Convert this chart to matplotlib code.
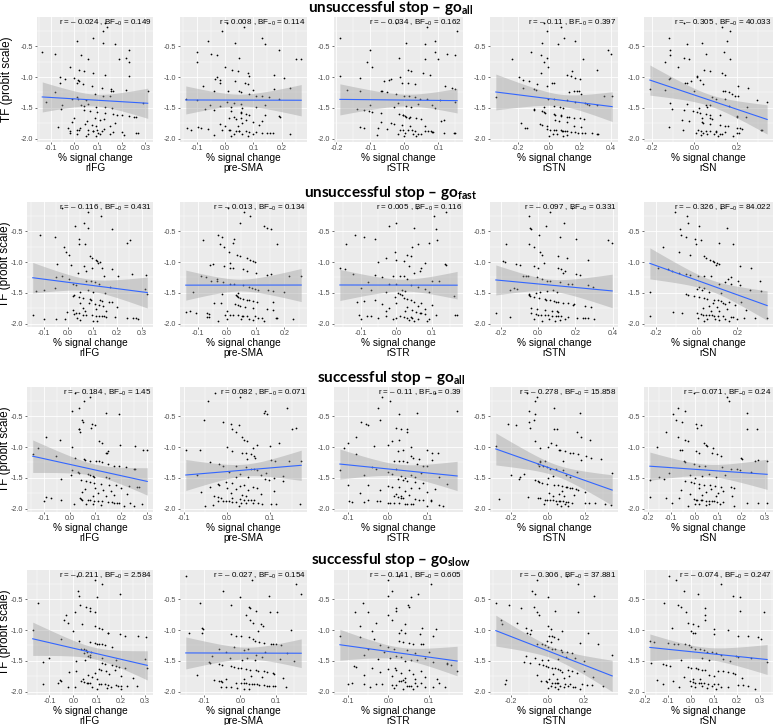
import numpy as np
import matplotlib
matplotlib.use('Agg')
import matplotlib.pyplot as plt
from matplotlib import font_manager
from matplotlib.ticker import MultipleLocator, FixedLocator, FuncFormatter

# ── Data ─────────────────────────────────────────────────────────────
# TF (probit) per subject, shared by every panel (top -> bottom)
TF = [-0.12, -0.19, -0.25, -0.37, -0.42, -0.45, -0.47,
      -0.57, -0.59, -0.62, -0.65, -0.69, -0.70, -0.71, -0.75, -0.84, -0.89, -0.91, -0.94, -0.96, -0.99, -1.00, -1.02,
      -1.04, -1.05, -1.07, -1.09, -1.10, -1.12, -1.15, -1.17, -1.20, -1.21, -1.22, -1.22, -1.23, -1.25, -1.28, -1.30,
      -1.31, -1.33, -1.35, -1.36, -1.38, -1.40, -1.42, -1.43, -1.45, -1.46, -1.47, -1.48, -1.49, -1.50,
      -1.52, -1.53, -1.55, -1.57, -1.58, -1.60, -1.61, -1.62, -1.63, -1.64, -1.65, -1.66, -1.67, -1.68, -1.70, -1.72,
      -1.73, -1.75, -1.76, -1.78, -1.79, -1.80,
      -1.81, -1.82, -1.83, -1.84, -1.85, -1.85, -1.86, -1.86, -1.87, -1.87, -1.88, -1.88, -1.89, -1.89, -1.90, -1.90,
      -1.91, -1.91, -1.92, -1.92, -1.93, -1.93, -1.94, -1.95, -1.96]

REGIONS = ["rIFG", "pre-SMA", "rSTR", "rSTN", "rSN"]
ROW_TITLES = [r"unsuccessful stop – go$_{\mathbf{all}}$",
              r"unsuccessful stop – go$_{\mathbf{fast}}$",
              r"successful stop – go$_{\mathbf{all}}$",
              r"successful stop – go$_{\mathbf{slow}}$"]

# % signal change per subject (same order as TF)
x_r1_rifg = [0.13, 0.14, 0.12, 0.08, 0.01, 0.12, 0.17,
             0.23, -0.135, -0.08, 0.03, 0.22, 0.19, 0.06, 0.23, -0.02, 0.02, 0.04, 0.08, 0.13, 0.23, -0.06, 0.0,
             -0.04, 0.015, 0.02, 0.01, -0.06, 0.035, 0.075, 0.115, 0.155, 0.22, 0.31, 0.165, 0.155, -0.08, 0.087, 0.12,
             0.15, 0.01, -0.01, 0.015, 0.05, -0.12, 0.29, 0.06, 0.03, -0.05, 0.04, 0.09, 0.13, 0.16,
             -0.055, 0.04, 0.068, 0.094, 0.13, 0.165, 0.18, 0.2, 0.23, 0.25, 0.26, 0.0, 0.087, 0.125, 0.107, 0.055,
             -0.01, 0.17, 0.045, 0.075, 0.15, 0.09,
             -0.07, -0.026, 0.025, 0.125, 0.094, 0.013, 0.02, 0.056, 0.077, 0.08, 0.115, -0.02, 0.165, 0.2, 0.27, 0.26,
             -0.02, 0.1, 0.06, 0.11, 0.01, 0.15, 0.21, 0.05, 0.09]
x_r1_presma = [0.005, 0.065, -0.01, 0.13, -0.06, 0.035, 0.14,
               0.19, -0.10, -0.05, -0.03, 0.05, 0.25, 0.27, -0.10, 0.0, 0.025, 0.045, 0.08, 0.175, 0.085, -0.03, 0.21,
               -0.035, -0.02, 0.035, -0.02, 0.07, 0.08, -0.08, 0.23, 0.175, 0.1, -0.04, 0.01, 0.05, 0.055, 0.085, 0.11,
               0.13, 0.155, 0.19, -0.14, -0.10, 0.008, 0.03, 0.055, 0.14, -0.055, -0.02, 0.11, 0.02, 0.06,
               -0.07, -0.04, 0.02, 0.055, 0.057, 0.075, 0.085, 0.14, 0.19, 0.195, 0.03, 0.015, 0.057, 0.04, 0.075, 0.13,
               0.1, 0.06, -0.02, 0.12, 0.045, 0.0,
               -0.095, -0.135, -0.085, -0.06, -0.12, -0.01, 0.015, 0.018, 0.04, 0.05, 0.05, 0.075, 0.085, 0.11, 0.13,
               0.15, 0.16, 0.17, 0.23, 0.03, 0.06, 0.1, -0.04, 0.02, 0.08]
x_r1_rstr = [-0.025, 0.065, 0.155, -0.19, 0.09, 0.005, 0.06,
             -0.1, 0.09, 0.125, 0.15, -0.015, 0.06, 0.1, -0.11, -0.095, 0.01, 0.02, 0.055, 0.075, -0.19, -0.013, -0.13,
             -0.04, -0.045, -0.06, -0.008, 0.01, 0.03, 0.12, 0.14, 0.15, -0.17, -0.13, -0.07, -0.065, -0.05, -0.025,
             0.0, 0.012, 0.03, 0.045, 0.065, 0.105, 0.15, -0.02, 0.04, -0.1, 0.08, 0.005, -0.03, 0.02, 0.09,
             -0.14, -0.12, -0.105, -0.095, -0.07, -0.015, -0.005, -0.003, 0.002, 0.005, 0.017, 0.012, 0.035, 0.05,
             0.117, 0.108, -0.07, -0.04, -0.032, -0.008, 0.017, 0.06,
             -0.13, -0.12, -0.078, -0.05, -0.013, -0.003, 0.01, 0.022, 0.03, 0.06, 0.07, 0.078, 0.082, 0.085, 0.115,
             0.145, 0.15, 0.002, 0.04, 0.025, -0.02, 0.05, -0.08, 0.0, 0.035]
x_r1_rstn = [-0.03, 0.075, -0.01, 0.1, 0.17, -0.045, 0.06,
             0.38, -0.115, 0.4, -0.055, -0.01, 0.22, -0.24, -0.035, -0.005, 0.31, 0.15, -0.055, 0.12, 0.145, -0.195, 0.17,
             0.2, -0.17, -0.13, 0.03, 0.02, -0.075, -0.015, -0.17, -0.1, -0.085, 0.16, 0.195, 0.18, 0.13, 0.205, 0.355,
             0.41, -0.345, -0.005, 0.035, 0.12, 0.17, 0.235, 0.245, 0.26, 0.31, 0.032, 0.07, -0.03, 0.09,
             -0.1, -0.1, -0.045, -0.035, -0.025, 0.03, 0.042, 0.075, 0.08, 0.115, 0.13, 0.16, 0.2, 0.23, 0.036, 0.065,
             0.115, -0.18, -0.06, -0.047, -0.015, 0.16,
             0.21, -0.155, -0.145, -0.01, 0.006, 0.032, 0.043, 0.075, 0.086, 0.092, 0.107, 0.114, 0.14, 0.17, 0.187,
             0.215, 0.236, 0.28, 0.31, 0.316, 0.028, 0.05, 0.12, 0.0, 0.09]
x_r1_rsn = [-0.047, 0.13, 0.165, -0.12, 0.155, 0.036, -0.036,
            -0.113, 0.14, 0.055, -0.113, -0.047, -0.024, 0.168, -0.137, -0.079, 0.043, 0.071, 0.13, 0.142, 0.011, 0.013, -0.113,
            -0.12, 0.027, -0.016, -0.036, -0.044, 0.04, 0.205, 0.25, -0.21, -0.137, -0.003, 0.134, 0.146, 0.162, 0.176,
            0.19, 0.205, 0.082, 0.102, 0.142, 0.296, 0.342, -0.113, -0.035, 0.055, 0.071, 0.162, 0.249, 0.06, 0.02,
            -0.105, -0.047, -0.008, 0.011, 0.027, 0.052, 0.074, 0.118, 0.202, 0.202, 0.244, 0.036, 0.071, 0.083, -0.058,
            -0.024, 0.036, 0.04, 0.071, 0.118, 0.142, 0.16,
            -0.12, 0.2, 0.216, 0.225, 0.312, 0.318, -0.052, 0.016, 0.031, 0.052, 0.074, 0.1, 0.102, 0.146, 0.202, 0.21,
            0.008, 0.04, 0.06, 0.09, 0.12, 0.13, 0.03, 0.11, 0.18]

x_r2_rifg = [-0.024, 0.083, 0.136, 0.065, 0.03, 0.083, 0.179,
             -0.115, -0.055, 0.045, 0.252, 0.239, 0.043, 0.069, -0.017, -0.008, 0.003, 0.088, 0.096, 0.112, 0.119, 0.129, 0.123,
             -0.044, 0.012, 0.065, 0.139, 0.096, 0.179, 0.072, 0.039, 0.259, 0.319, 0.205, 0.145, -0.024, -0.051, 0.005,
             0.072, 0.092, 0.109, 0.125, 0.019, 0.032, 0.172, -0.055, 0.315, 0.08, -0.1, -0.13, 0.1, 0.05, 0.15,
             0.323, 0.025, 0.021, 0.045, 0.059, 0.088, 0.092, 0.132, 0.139, 0.165, 0.179, 0.048, 0.085, 0.109, 0.125,
             0.141, 0.2, 0.06, 0.115, 0.02, 0.155, 0.07,
             -0.004, 0.032, 0.045, 0.025, 0.059, 0.072, -0.144, 0.099, 0.112, 0.128, 0.139, 0.145, 0.155, 0.192, 0.239,
             0.265, 0.279, 0.035, -0.011, -0.051, -0.099, 0.285, 0.05, 0.1, 0.12]
x_r2_presma = [0.002, 0.06, 0.08, 0.044, 0.129, 0.138, 0.152,
               -0.032, -0.017, 0.023, -0.083, 0.021, 0.176, -0.023, -0.011, 0.006, 0.034, 0.044, 0.069, 0.08, 0.092, 0.098, 0.011,
               -0.048, -0.061, -0.011, 0.011, 0.021, 0.057, 0.069, 0.101, 0.155, 0.138, 0.215, 0.259, -0.09, -0.072, -0.034,
               -0.055, -0.034, -0.014, 0.011, 0.023, 0.057, 0.075, 0.086, 0.098, 0.109, 0.144, 0.159, -0.12, 0.2, 0.04,
               -0.017, 0.032, 0.034, 0.04, 0.046, 0.057, 0.069, 0.075, 0.092, 0.103, 0.161, -0.046, -0.02, 0.029, 0.04,
               0.046, 0.063, 0.092, 0.138, 0.161, -0.13, 0.0,
               -0.144, -0.109, -0.069, -0.062, -0.006, 0.011, 0.021, 0.037, 0.098, 0.052, 0.057, 0.069, -0.069, -0.063, 0.109,
               0.121, 0.17, 0.175, 0.23, 0.075, 0.0, 0.05, 0.09, 0.13, -0.03]
x_r2_rstr = [0.058, 0.14, 0.105, 0.0, -0.02, 0.05, 0.11,
             -0.115, -0.09, -0.06, 0.115, 0.09, 0.06, -0.14, 0.045, -0.005, 0.03, 0.04, -0.03, 0.0, 0.02, -0.05, 0.08,
             0.135, 0.14, 0.035, 0.07, -0.158, -0.144, 0.065, 0.05, -0.12, -0.06, -0.01, 0.01, 0.02, -0.04, 0.03, 0.1,
             0.12, -0.08, -0.02, 0.0, 0.04, 0.06, -0.1, 0.08, -0.07, 0.015, 0.025, -0.03, 0.09, 0.005,
             0.01, 0.015, 0.16, -0.005, 0.02, 0.03, 0.04, -0.06, -0.09, 0.05, -0.11, 0.0, 0.07, -0.04, 0.1, 0.06, 0.03,
             -0.02, 0.08, 0.045, 0.025, -0.03,
             0.055, 0.065, 0.07, 0.08, -0.105, 0.11, 0.165, 0.17, -0.083, -0.07, -0.03, 0.01, 0.02, 0.04, 0.045, -0.05,
             0.0, 0.03, 0.06, 0.09, -0.01, -0.1, 0.035, 0.085, 0.05]
x_r2_rstn = [0.18, 0.065, -0.046, 0.141, 0.042, -0.044, -0.037,
             0.007, 0.118, 0.201, 0.374, 0.397, -0.169, -0.046, -0.019, 0.009, 0.021, 0.109, 0.153, 0.268, -0.19, -0.178, 0.03,
             -0.12, -0.099, -0.023, 0.0, 0.109, 0.123, 0.145, 0.136, 0.203, 0.224, -0.067, -0.053, -0.081, -0.005, 0.021,
             0.048, 0.065, 0.118, 0.159, 0.18, 0.268, 0.295, -0.129, -0.115, 0.08, -0.15, 0.05, 0.01, 0.1, -0.01,
             -0.049, -0.046, -0.041, -0.023, 0.004, 0.035, 0.042, 0.065, 0.083, 0.095, 0.109, 0.136, 0.162, 0.194, 0.189,
             0.25, 0.282, -0.037, -0.005, 0.035, 0.074, 0.1,
             0.109, -0.226, -0.035, -0.011, 0.0, 0.018, 0.035, 0.056, 0.074, 0.095, 0.109, 0.123, 0.159, -0.152, 0.206,
             0.242, 0.25, 0.268, 0.3, -0.023, 0.145, 0.06, 0.12, 0.02, 0.09]
x_r2_rsn = [0.12, -0.105, -0.049, -0.041, 0.013, 0.149, -0.08,
            -0.077, -0.052, -0.008, 0.021, 0.108, -0.003, 0.177, -0.167, -0.089, -0.031, 0.038, 0.046, 0.067, 0.079, 0.087, 0.1,
            0.108, 0.095, 0.215, 0.267, -0.189, -0.143, -0.123, -0.085, -0.052, -0.031, 0.005, 0.034, 0.07, 0.169, 0.152,
            0.202, 0.313, 0.139, 0.111, 0.169, 0.215, 0.013, 0.038, 0.0, 0.025, 0.264, 0.315, -0.228, 0.06, 0.12,
            -0.052, -0.044, -0.015, 0.013, 0.038, 0.051, 0.087, 0.103, 0.12, 0.161, 0.218, 0.128, 0.08, 0.14, 0.19, 0.06,
            0.1, 0.03, 0.15, 0.24, 0.11, 0.07,
            -0.118, -0.072, 0.002, 0.021, 0.03, 0.046, 0.062, 0.074, 0.087, 0.103, -0.23, 0.128, 0.169, 0.177, 0.231,
            0.287, 0.346, 0.005, 0.09, 0.14, 0.2, 0.05, 0.11, 0.16, 0.035]

x_r3_rifg = [0.023, 0.078, 0.057, 0.035, 0.01, 0.139, 0.192,
             0.047, 0.051, 0.086, 0.097, 0.082, 0.035, 0.038, 0.041, -0.091, -0.038, 0.114, 0.124, 0.196, 0.253, 0.01, -0.12,
             0.282, 0.3, 0.149, 0.139, 0.146, -0.142, -0.051, 0.023, 0.054, 0.061, 0.078, 0.104, 0.114, 0.127, 0.149,
             0.171, 0.192, 0.218, 0.247, 0.253, 0.01, 0.032, 0.035, 0.07, 0.006, 0.078, 0.089, 0.095, 0.142, 0.154,
             -0.034, 0.044, 0.063, 0.078, 0.095, 0.12, 0.152, 0.181, 0.23, 0.26, 0.268, 0.1, 0.2, 0.06, 0.13, 0.16, 0.05,
             0.11, 0.22, 0.17, 0.09, 0.14,
             -0.089, -0.072, 0.041, 0.044, 0.048, -0.034, 0.073, 0.078, 0.095, 0.108, 0.127, -0.099, 0.149, 0.165, 0.171,
             0.184, 0.192, 0.234, 0.281, 0.019, 0.063, 0.089, 0.12, 0.21, 0.25]
x_r3_presma = [-0.027, 0.031, -0.044, 0.139, 0.089, 0.087, 0.093,
               -0.053, -0.008, 0.009, 0.028, 0.16, 0.15, 0.011, 0.021, 0.034, 0.04, 0.047, 0.12, 0.07, 0.1, 0.0, 0.06,
               -0.095, -0.063, 0.013, 0.036, 0.044, 0.055, 0.063, 0.065, 0.047, 0.101, 0.112, 0.144, 0.172, -0.039, -0.018,
               -0.01, 0.022, 0.044, 0.055, 0.063, 0.07, 0.005, 0.09, 0.03, -0.07, 0.08, 0.13, 0.02, 0.05, 0.11,
               0.088, 0.098, 0.129, -0.002, 0.013, -0.021, -0.018, 0.04, 0.03, 0.06, -0.04, 0.07, 0.0, 0.02, 0.05, 0.11,
               -0.06, 0.01, 0.08, 0.035, -0.03, 0.045,
               -0.021, -0.014, 0.013, 0.03, 0.04, 0.05, 0.055, 0.063, -0.021, -0.01, -0.002, 0.005, 0.013, 0.022, 0.032,
               0.044, 0.06, 0.073, 0.082, 0.169, 0.101, 0.114, -0.033, 0.028, -0.05]
x_r3_rstr = [0.12, -0.013, 0.005, -0.025, 0.175, 0.075, 0.03,
             -0.02, -0.068, -0.055, -0.05, 0.02, 0.033, 0.05, 0.05, -0.08, 0.03, 0.01, -0.1, 0.0, -0.035, 0.06, -0.11,
             0.04, 0.1, 0.025, 0.128, 0.112, -0.08, 0.058, 0.065, 0.078, 0.113, 0.016, 0.03, 0.04, 0.05, 0.075, 0.09,
             0.1, -0.04, -0.03, 0.02, -0.12, 0.0, 0.085, 0.01, 0.06, -0.06, 0.035, 0.13, 0.07, 0.045,
             0.025, 0.04, 0.05, 0.07, 0.09, 0.15, -0.1, -0.05, 0.0, 0.01, 0.03, 0.06, 0.08, 0.12, -0.02, 0.045, 0.1,
             -0.07, 0.02, 0.055, 0.035, 0.015,
             0.025, 0.035, 0.04, 0.07, -0.05, 0.08, 0.09, 0.11, 0.11, -0.098, -0.026, -0.02, -0.09, -0.06, 0.0, 0.005,
             0.015, 0.03, 0.045, 0.05, 0.06, 0.065, 0.13, 0.14, 0.1]
x_r3_rstn = [-0.114, -0.057, -0.066, 0.036, -0.098, 0.174, -0.066,
             -0.075, -0.101, -0.214, -0.173, -0.093, 0.032, 0.05, 0.157, 0.183, 0.231, -0.066, 0.02, 0.046, -0.28, 0.0, -0.04,
             0.059, 0.068, 0.094, 0.121, 0.139, 0.165, 0.206, 0.237, 0.29, 0.183, -0.039, -0.012, 0.085, -0.039, -0.052,
             -0.048, -0.025, -0.004, 0.014, 0.046, 0.085, 0.157, 0.349, -0.13, -0.2, 0.1, 0.03, -0.15, 0.12, 0.0,
             -0.155, -0.066, -0.053, -0.048, -0.03, -0.004, 0.037, 0.055, 0.076, 0.1, 0.107, 0.121, 0.13, 0.153, 0.165,
             0.08, 0.2, 0.01, 0.06, 0.14, 0.09, 0.03,
             -0.107, -0.039, -0.053, -0.262, -0.012, -0.004, 0.014, 0.028, 0.046, 0.059, 0.068, 0.085, 0.1, 0.112, 0.13,
             0.201, 0.224, 0.254, 0.308, -0.021, 0.05, 0.094, 0.34, 0.11, 0.07]
x_r3_rsn = [-0.003, 0.14, 0.147, -0.071, -0.039, 0.226, -0.091,
            -0.081, -0.053, 0.004, 0.026, 0.011, 0.223, 0.266, -0.124, -0.071, -0.039, -0.029, 0.04, 0.047, 0.051, -0.16, 0.08,
            -0.063, -0.053, 0.004, 0.019, 0.076, 0.097, 0.114, 0.2, 0.204, 0.269, 0.257, 0.309, -0.046, -0.039, -0.003,
            0.019, 0.043, 0.119, 0.154, 0.183, 0.194, 0.24, -0.11, 0.06, 0.13, -0.02, 0.03, 0.09, -0.15, 0.0,
            -0.131, -0.191, -0.039, -0.014, -0.003, 0.019, 0.04, 0.066, 0.086, 0.111, 0.154, 0.169, 0.02, 0.07, -0.06,
            0.12, 0.05, 0.1, -0.02, 0.03, 0.16, 0.09,
            -0.189, -0.124, -0.067, -0.003, 0.004, 0.011, 0.026, 0.033, 0.047, 0.061, 0.073, 0.083, 0.097, 0.123, -0.096,
            0.223, 0.271, 0.31, 0.0, 0.06, 0.11, 0.02, 0.05, -0.03, 0.17]

x_r4_rifg = [0.014, 0.09, 0.12, 0.018, 0.197, 0.022, 0.099,
             -0.15, 0.027, 0.054, 0.068, 0.072, 0.093, 0.008, -0.03, -0.037, -0.023, 0.038, 0.093, 0.109, 0.12, -0.17, 0.0,
             0.144, 0.147, 0.195, 0.218, 0.272, 0.303, -0.05, 0.024, 0.068, 0.093, 0.099, 0.106, 0.12, 0.133, 0.161,
             0.031, 0.045, 0.052, 0.059, 0.076, 0.045, 0.068, 0.063, 0.072, -0.1, 0.12, 0.3, 0.18, 0.05, 0.01,
             -0.125, 0.12, 0.133, 0.161, 0.181, 0.19, 0.218, 0.31, 0.106, 0.117, 0.174, 0.136, 0.011, -0.016, 0.09, 0.15,
             0.06, 0.2, 0.08, 0.25, 0.04, 0.1,
             -0.057, -0.05, 0.031, 0.045, 0.059, 0.063, 0.072, -0.064, 0.109, 0.117, -0.125, 0.131, 0.147, 0.181, 0.187,
             0.201, 0.226, 0.269, 0.008, -0.023, 0.08, 0.16, 0.14, 0.1, 0.2]
x_r4_presma = [-0.152, 0.032, 0.156, -0.047, 0.17, 0.08, 0.0,
               -0.113, -0.026, 0.025, 0.028, 0.044, 0.084, 0.103, 0.016, 0.028, 0.035, 0.058, 0.063, -0.106, -0.104, 0.142, 0.05,
               -0.143, -0.106, -0.026, -0.012, 0.002, 0.025, 0.035, 0.041, 0.053, 0.067, 0.086, 0.091, 0.1, 0.114, -0.017,
               0.021, -0.06, 0.01, 0.07, -0.04, 0.13, 0.045, -0.08, 0.06, 0.02, -0.03, 0.11, 0.005, 0.04, 0.15,
               -0.087, -0.084, -0.059, -0.05, -0.026, -0.017, -0.007, 0.002, 0.016, 0.028, 0.044, 0.049, 0.065, 0.075,
               0.091, 0.095, -0.12, 0.03, 0.06, 0.12, -0.04, 0.01,
               -0.073, -0.059, -0.054, -0.05, -0.012, 0.002, 0.009, 0.016, 0.025, 0.032, 0.039, 0.047, 0.053, 0.067, 0.075,
               0.081, 0.091, 0.097, 0.128, -0.054, -0.04, -0.026, -0.009, 0.011, 0.025]
x_r4_rstr = [0.027, -0.002, 0.105, 0.009, 0.072, 0.0, 0.057,
             -0.063, 0.049, 0.05, 0.019, 0.02, -0.083, -0.05, 0.0, 0.01, -0.03, 0.04, -0.07, 0.083, 0.117, 0.03, -0.04,
             0.027, 0.04, 0.078, 0.11, -0.12, -0.07, -0.035, 0.025, 0.035, 0.05, 0.06, 0.08, 0.085, -0.02, 0.0, -0.05,
             0.015, 0.045, -0.01, 0.1, 0.065, -0.06, 0.02, 0.03, 0.09, 0.005, -0.025, 0.055, 0.07, 0.04,
             0.11, 0.146, 0.146, 0.155, -0.086, -0.08, 0.017, -0.04, 0.0, 0.02, 0.05, 0.08, 0.17, -0.02, 0.03, 0.06,
             -0.06, 0.01, 0.09, 0.04, 0.12, 0.065,
             0.036, 0.03, 0.025, 0.04, 0.065, 0.081, -0.09, 0.125, -0.06, -0.03, -0.015, -0.1, 0.01, 0.02, 0.045, 0.05,
             0.055, 0.07, 0.09, 0.11, 0.14, -0.045, 0.015, 0.035, 0.06]
x_r4_rstn = [0.105, -0.058, 0.169, -0.085, -0.067, 0.256, 0.005,
             -0.285, -0.213, -0.076, -0.149, 0.042, 0.165, -0.058, -0.045, -0.258, -0.167, -0.25, 0.0, -0.12, 0.02, -0.09, 0.08,
             0.224, -0.113, -0.098, 0.009, 0.024, 0.038, 0.056, -0.004, 0.02, 0.178, 0.278, -0.058, -0.031, -0.016, 0.005,
             0.024, 0.042, 0.075, 0.078, 0.105, 0.133, 0.356, -0.118, 0.1, -0.07, 0.15, 0.06, 0.0, -0.03, 0.2,
             -0.131, -0.095, -0.049, -0.027, -0.009, 0.005, 0.024, 0.042, 0.06, 0.069, 0.111, 0.136, 0.2, 0.08, 0.16,
             0.03, -0.06, 0.12, 0.25, 0.09, 0.05, 0.01,
             -0.231, -0.035, -0.009, -0.004, 0.024, 0.042, 0.051, 0.06, 0.096, -0.236, 0.124, 0.187, 0.215, 0.245, 0.305,
             0.02, 0.07, 0.11, 0.15, 0.04, 0.09, 0.14, 0.0, 0.18, 0.06]
x_r4_rsn = [-0.095, -0.065, 0.13, -0.029, 0.032, 0.183, 0.212,
            -0.115, -0.055, -0.043, 0.063, 0.212, 0.317, -0.019, 0.06, 0.063, -0.01, 0.01, 0.03, -0.08, 0.1, 0.16, 0.0,
            0.01, 0.017, 0.101, 0.204, 0.247, 0.291, 0.305, -0.177, -0.158, -0.098, -0.072, -0.055, -0.026, -0.009,
            0.003, 0.02, 0.039, 0.058, 0.072, 0.092, 0.111, 0.132, 0.197, 0.204, 0.259, 0.05, 0.14, -0.04, 0.08, 0.17,
            0.331, -0.17, -0.119, -0.105, -0.091, -0.012, 0.0, 0.024, 0.032, 0.049, 0.06, 0.118, 0.14, 0.161, 0.183,
            0.19, 0.08, 0.1, -0.03, 0.22, 0.04, 0.01,
            -0.148, -0.076, -0.004, 0.01, 0.017, 0.035, 0.046, 0.058, 0.075, 0.101, 0.118, -0.119, 0.204, 0.226, 0.247,
            0.003, 0.05, 0.09, 0.13, 0.16, -0.05, 0.02, 0.07, 0.11, 0.28]

# correlation / Bayes factor annotations
r_txt = [["-0.024", "0.008", "-0.034", "-0.11", "-0.305"],
         ["-0.116", "-0.013", "0.005", "-0.097", "-0.326"],
         ["-0.184", "0.082", "-0.11", "-0.278", "-0.071"],
         ["-0.211", "-0.027", "-0.141", "-0.306", "-0.074"]]
bf_txt = [["0.149", "0.114", "0.162", "0.397", "40.033"],
          ["0.431", "0.134", "0.116", "0.331", "84.022"],
          ["1.45", "0.071", "0.39", "15.858", "0.24"],
          ["2.584", "0.154", "0.605", "37.881", "0.247"]]

X_ROWS = [[x_r1_rifg, x_r1_presma, x_r1_rstr, x_r1_rstn, x_r1_rsn],
          [x_r2_rifg, x_r2_presma, x_r2_rstr, x_r2_rstn, x_r2_rsn],
          [x_r3_rifg, x_r3_presma, x_r3_rstr, x_r3_rstn, x_r3_rsn],
          [x_r4_rifg, x_r4_presma, x_r4_rstr, x_r4_rstn, x_r4_rsn]]

# ── Style ────────────────────────────────────────────────────────────
_names = {f.name for f in font_manager.fontManager.ttflist}
NARROW = 'Liberation Sans Narrow' if 'Liberation Sans Narrow' in _names else 'Liberation Sans'
TITLE_FONT = 'Lato' if 'Lato' in _names else 'DejaVu Sans'

plt.rcParams.update({
    'font.family': 'Liberation Sans',
    'mathtext.fontset': 'custom',
    'mathtext.rm': 'Liberation Sans',
    'mathtext.it': 'Liberation Sans:italic',
    'mathtext.bf': f'{TITLE_FONT}:bold',
})

PANEL_BG = '#EBEBEB'
TICK_GREY = '#4D4D4D'
LINE_BLUE = '#3366FF'
T95 = 1.984

W, H = 775, 725
fig = plt.figure(figsize=(W / 100, H / 100), dpi=100)
fig.patch.set_facecolor('white')

COLS = [(37, 153), (180, 307), (334, 463), (490, 618), (644, 773)]
ROWS = [(17, 142), (202, 327), (387, 512), (570, 695)]
TITLE_Y = [8, 193, 378, 560]
XSTEP = [[0.1, 0.1, 0.1, 0.2, 0.2],
         [0.1, 0.1, 0.1, 0.2, 0.2],
         [0.1, 0.1, 0.1, 0.2, 0.1],
         [0.1, 0.1, 0.1, 0.2, 0.1]]

y = np.array(TF)
ylo, yhi = y.min(), y.max()
yr = yhi - ylo
YLIM = (ylo - 0.05 * yr, yhi + 0.05 * yr)

fmt1 = FuncFormatter(lambda v, p: f"{v:.1f}".replace("-0.0", "0.0"))

for i in range(4):
    top, bot = ROWS[i]
    fig.text(391 / W, 1 - TITLE_Y[i] / H, ROW_TITLES[i], ha='center', va='center',
             fontsize=11, fontweight='bold', family=TITLE_FONT)
    for j in range(5):
        left, right = COLS[j]
        if j == 0 and i > 0:
            left = 27
        ax = fig.add_axes([left / W, 1 - bot / H, (right - left) / W, (bot - top) / H])
        ax.set_facecolor(PANEL_BG)
        for s in ax.spines.values():
            s.set_visible(False)

        x = np.array(X_ROWS[i][j])
        if len(x) != len(y):
            raise ValueError(f"row {i} col {j}: {len(x)} values")

        # linear fit + 95% CI (like geom_smooth(method='lm'))
        n = len(x)
        b, a = np.polyfit(x, y, 1)
        resid = y - (a + b * x)
        s_err = np.sqrt(np.sum(resid ** 2) / (n - 2))
        sxx = np.sum((x - x.mean()) ** 2)
        xg = np.linspace(x.min(), x.max(), 80)
        yg = a + b * xg
        se = s_err * np.sqrt(1.0 / n + (xg - x.mean()) ** 2 / sxx)

        ax.scatter(x, y, s=1.6, c='black', linewidths=0, zorder=3)
        ax.fill_between(xg, yg - T95 * se, yg + T95 * se, color='#999999', alpha=0.4,
                        linewidth=0, zorder=4)
        ax.plot(xg, yg, color=LINE_BLUE, lw=0.8, zorder=5)

        xr = x.max() - x.min()
        ax.set_xlim(x.min() - 0.05 * xr, x.max() + 0.05 * xr)
        ax.set_ylim(YLIM)

        step = XSTEP[i][j]
        ax.xaxis.set_major_locator(MultipleLocator(step))
        ax.xaxis.set_minor_locator(MultipleLocator(step / 2))
        ax.yaxis.set_major_locator(FixedLocator([-2.0, -1.5, -1.0, -0.5]))
        ax.yaxis.set_minor_locator(FixedLocator([-1.75, -1.25, -0.75, -0.25]))
        ax.xaxis.set_major_formatter(fmt1)
        ax.yaxis.set_major_formatter(fmt1)
        ax.grid(True, which='major', color='white', lw=0.6, zorder=0)
        ax.grid(True, which='minor', color='white', lw=0.3, zorder=0)
        ax.set_axisbelow(True)
        ax.tick_params(which='major', length=1.5, width=0.5, color='#333333',
                       labelsize=5.2, labelcolor=TICK_GREY, pad=1)
        ax.tick_params(which='minor', length=0)

        ax.set_xlabel(f"% signal change\n{REGIONS[j]}", fontsize=7.3, family=NARROW,
                      labelpad=0.5, linespacing=0.95)

        rv = r_txt[i][j]
        rs = f"– {rv[1:]}" if rv.startswith('-') else rv
        ax.text(0.99, 0.997, f"r = {rs} , BF$_{{-0}}$ = {bf_txt[i][j]}",
                transform=ax.transAxes, ha='right', va='top', fontsize=5.8,
                family=NARROW, color='black', zorder=6)

        if j == 0:
            fig.text((7 if i == 0 else 5) / W, 1 - (top + bot) / 2 / H, "TF (probit scale)",
                     rotation=90, ha='center', va='center', fontsize=8.5)

fig.savefig("out.png", dpi=100, facecolor='white')
